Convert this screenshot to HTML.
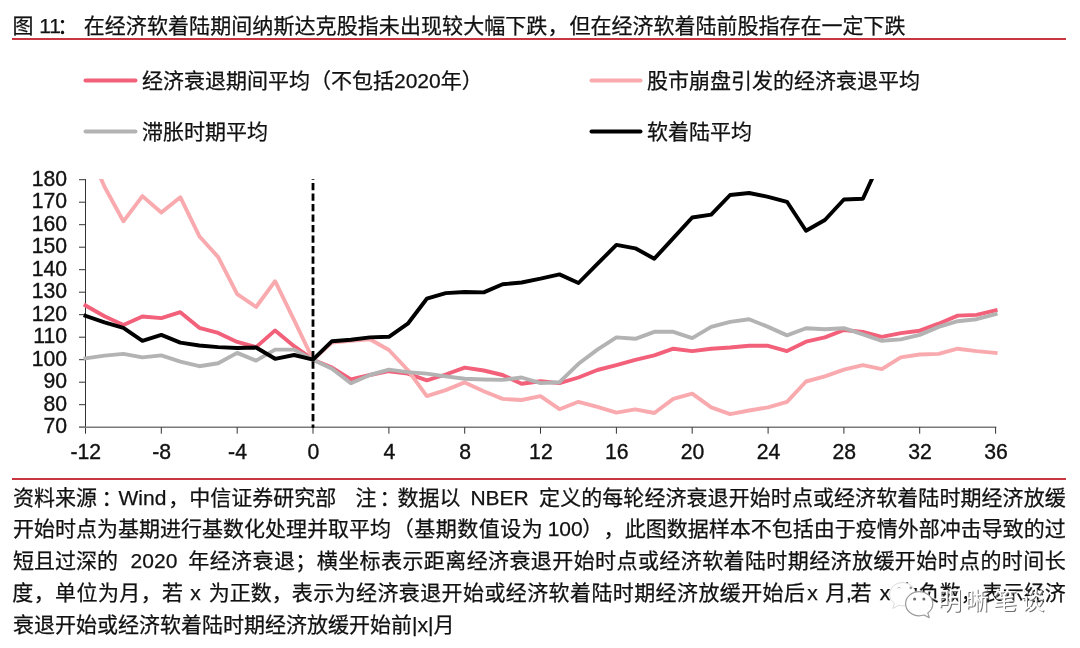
<!DOCTYPE html>
<html lang="zh-CN">
<head>
<meta charset="utf-8">
<title>图 11</title>
<style>
html,body{margin:0;padding:0;background:#fff;}
body{width:1080px;height:648px;position:relative;overflow:hidden;
  font-family:"Liberation Sans","Noto Sans CJK SC",sans-serif;color:#111;-webkit-text-stroke:0.25px #111;}
.abs{position:absolute;white-space:nowrap;}
.title{left:12.4px;top:10.8px;font-size:21px;line-height:30px;text-spacing-trim:space-all;}
.rule{position:absolute;left:12px;width:1054px;background:#c8363f;}
#wrap{position:absolute;left:0;top:0;width:1080px;height:648px;will-change:transform;}
.chart{position:absolute;left:0;top:0;}
.ax text{font-family:"Liberation Sans",sans-serif;font-size:21.2px;fill:#111;stroke:#111;stroke-width:0.35px;}
.wm{-webkit-text-stroke:0;left:937.7px;top:582.3px;font-size:24px;line-height:34px;letter-spacing:3.6px;color:#fff;text-shadow:1px 1px 0.6px #6e6e6e;font-family:"Noto Sans CJK SC",sans-serif;}
.lg{font-size:21px;line-height:30px;}
.src{font-size:21px;line-height:30px;text-spacing-trim:space-all;}
</style>
</head>
<body>
<div id="wrap">
<div class="abs title">图 11<span style="position:relative;left:-3.700px">：</span></div><div class="abs title" style="left:83.700px;letter-spacing:0.08px;">在经济软着陆期间纳斯达克股指未出现较大幅下跌，</div><div class="abs title" style="left:569.400px;">但在经济软着陆前股指存在一定下跌</div>
<div class="rule" style="top:37.900px;height:1.900px;"></div>
<svg class="chart" width="1080" height="648" viewBox="0 0 1080 648">
<defs><clipPath id="plot"><rect x="80" y="179" width="930" height="260"/></clipPath></defs>
<g stroke="#333" stroke-width="1" fill="none">
<line x1="85.5" y1="179.1" x2="85.5" y2="433.7"/>
<line x1="79.0" y1="427.2" x2="85.5" y2="427.2"/>
<line x1="79.0" y1="404.7" x2="85.5" y2="404.7"/>
<line x1="79.0" y1="382.2" x2="85.5" y2="382.2"/>
<line x1="79.0" y1="359.7" x2="85.5" y2="359.7"/>
<line x1="79.0" y1="337.2" x2="85.5" y2="337.2"/>
<line x1="79.0" y1="314.7" x2="85.5" y2="314.7"/>
<line x1="79.0" y1="292.2" x2="85.5" y2="292.2"/>
<line x1="79.0" y1="269.7" x2="85.5" y2="269.7"/>
<line x1="79.0" y1="247.2" x2="85.5" y2="247.2"/>
<line x1="79.0" y1="224.7" x2="85.5" y2="224.7"/>
<line x1="79.0" y1="202.2" x2="85.5" y2="202.2"/>
<line x1="79.0" y1="179.7" x2="85.5" y2="179.7"/>
</g>
<g stroke="#7a7a7a" stroke-width="1.5" fill="none">
<line x1="79.0" y1="427.2" x2="996.3" y2="427.2"/>
</g>
<g stroke="#333" stroke-width="1" fill="none">
<line x1="161.3" y1="427.2" x2="161.3" y2="433.7"/>
<line x1="237.2" y1="427.2" x2="237.2" y2="433.7"/>
<line x1="313.0" y1="427.2" x2="313.0" y2="433.7"/>
<line x1="388.9" y1="427.2" x2="388.9" y2="433.7"/>
<line x1="464.7" y1="427.2" x2="464.7" y2="433.7"/>
<line x1="540.5" y1="427.2" x2="540.5" y2="433.7"/>
<line x1="616.4" y1="427.2" x2="616.4" y2="433.7"/>
<line x1="692.2" y1="427.2" x2="692.2" y2="433.7"/>
<line x1="768.1" y1="427.2" x2="768.1" y2="433.7"/>
<line x1="843.9" y1="427.2" x2="843.9" y2="433.7"/>
<line x1="919.7" y1="427.2" x2="919.7" y2="433.7"/>
<line x1="995.6" y1="427.2" x2="995.6" y2="433.7"/>
</g>
<g class="ax" text-anchor="end">
<text x="67" y="433.3">70</text>
<text x="67" y="410.8">80</text>
<text x="67" y="388.3">90</text>
<text x="67" y="365.8">100</text>
<text x="67" y="343.3">110</text>
<text x="67" y="320.8">120</text>
<text x="67" y="298.3">130</text>
<text x="67" y="275.8">140</text>
<text x="67" y="253.3">150</text>
<text x="67" y="230.8">160</text>
<text x="67" y="208.3">170</text>
<text x="67" y="185.8">180</text>
</g>
<g class="ax" text-anchor="middle">
<text x="85.8" y="458.9">-12</text>
<text x="161.6" y="458.9">-8</text>
<text x="237.5" y="458.9">-4</text>
<text x="313.4" y="458.9">0</text>
<text x="389.3" y="458.9">4</text>
<text x="465.1" y="458.9">8</text>
<text x="540.9" y="458.9">12</text>
<text x="616.8" y="458.9">16</text>
<text x="692.6" y="458.9">20</text>
<text x="768.5" y="458.9">24</text>
<text x="844.3" y="458.9">28</text>
<text x="920.1" y="458.9">32</text>
<text x="996.0" y="458.9">36</text>
</g>
<g clip-path="url(#plot)" fill="none" stroke-width="3.9" stroke-linejoin="round" stroke-linecap="square">
<polyline stroke="#f2607a" points="85.5,305.5 104.5,316.3 123.4,325.0 142.4,316.5 161.3,318.1 180.3,312.2 199.3,327.8 218.2,332.9 237.2,341.9 256.1,347.1 275.1,330.4 294.1,346.2 313.0,359.7 332.0,367.6 350.9,379.3 369.9,375.0 388.9,371.2 407.8,373.6 426.8,380.4 445.7,374.5 464.7,367.6 483.7,370.5 502.6,375.0 521.6,383.8 540.5,381.3 559.5,383.1 578.5,377.5 597.4,370.0 616.4,365.1 635.3,359.9 654.3,355.4 673.3,348.7 692.2,351.1 711.2,348.7 730.1,347.5 749.1,345.8 768.1,345.8 787.0,351.1 806.0,341.7 824.9,337.4 843.9,330.0 862.9,332.0 881.8,336.8 900.8,333.1 919.7,330.7 938.7,323.7 957.7,315.6 976.6,314.9 995.6,310.4"/>
<polyline stroke="#f9aaae" points="85.5,143.7 104.5,186.7 123.4,221.3 142.4,196.1 161.3,212.5 180.3,197.2 199.3,236.2 218.2,257.1 237.2,294.2 256.1,307.0 275.1,281.2 294.1,320.1 313.0,359.7 332.0,342.6 350.9,340.8 369.9,339.2 388.9,350.0 407.8,370.0 426.8,396.1 445.7,390.1 464.7,382.4 483.7,391.2 502.6,398.9 521.6,400.0 540.5,396.1 559.5,409.2 578.5,401.8 597.4,406.9 616.4,412.6 635.3,409.4 654.3,413.0 673.3,398.9 692.2,393.7 711.2,407.4 730.1,414.1 749.1,410.5 768.1,407.4 787.0,401.8 806.0,381.5 824.9,376.4 843.9,369.6 862.9,365.1 881.8,369.1 900.8,357.4 919.7,354.5 938.7,353.9 957.7,348.7 976.6,351.1 995.6,352.9"/>
<polyline stroke="#b3b3b3" points="85.5,358.4 104.5,355.6 123.4,353.9 142.4,357.4 161.3,355.4 180.3,361.7 199.3,366.2 218.2,363.3 237.2,352.9 256.1,360.6 275.1,349.6 294.1,349.6 313.0,359.7 332.0,368.7 350.9,383.3 369.9,375.0 388.9,369.6 407.8,372.1 426.8,373.6 445.7,376.4 464.7,378.8 483.7,379.5 502.6,379.9 521.6,377.5 540.5,383.1 559.5,382.2 578.5,363.8 597.4,349.6 616.4,337.4 635.3,338.8 654.3,331.8 673.3,331.8 692.2,338.1 711.2,326.9 730.1,321.9 749.1,319.2 768.1,326.9 787.0,335.4 806.0,328.2 824.9,329.3 843.9,328.2 862.9,334.3 881.8,340.8 900.8,339.4 919.7,334.9 938.7,326.9 957.7,321.2 976.6,319.2 995.6,314.2"/>
<polyline stroke="#000" points="85.5,315.8 104.5,322.4 123.4,327.8 142.4,340.8 161.3,334.9 180.3,342.6 199.3,345.5 218.2,347.1 237.2,348.0 256.1,347.5 275.1,358.8 294.1,355.0 313.0,359.7 332.0,341.2 350.9,339.7 369.9,337.4 388.9,336.8 407.8,323.7 426.8,298.7 445.7,293.1 464.7,292.0 483.7,292.4 502.6,284.3 521.6,282.5 540.5,278.7 559.5,274.4 578.5,283.0 597.4,263.9 616.4,244.9 635.3,248.3 654.3,258.7 673.3,238.2 692.2,217.5 711.2,214.6 730.1,195.0 749.1,193.0 768.1,196.8 787.0,201.8 806.0,230.8 824.9,220.0 843.9,199.5 862.9,198.8 881.8,157.2"/>
</g>
<line x1="313.0" y1="179" x2="313.0" y2="427.7" stroke="#000" stroke-width="2.8" stroke-dasharray="7.4 3.1" stroke-dashoffset="6.6"/>
<g stroke-width="4" stroke-linecap="round" fill="none">
<line x1="85.5" y1="80.5" x2="135.5" y2="80.5" stroke="#f2607a"/>
<line x1="85.5" y1="131.6" x2="135.5" y2="131.6" stroke="#b3b3b3"/>
<line x1="591.5" y1="80.5" x2="640.5" y2="80.5" stroke="#f9aaae"/>
<line x1="591.5" y1="131.6" x2="640.5" y2="131.6" stroke="#000"/>
</g>
</svg>
<div class="abs lg" style="left:142px;top:66.3px;">经济衰退期间平均（不包括2020年）</div>
<div class="abs lg" style="left:142px;top:116.6px;">滞胀时期平均</div>
<div class="abs lg" style="left:647px;top:66.3px;">股市崩盘引发的经济衰退平均</div>
<div class="abs lg" style="left:647px;top:116.6px;">软着陆平均</div>
<div class="rule" style="top:477.900px;height:1.900px;"></div>
<div class="srcwrap"><span class="abs src" style="top:482.6px;left:13.0px;">资料来源<span style="position:relative;left:4.5px">：</span></span>
<span class="abs src" style="top:482.6px;left:118.5px;">Wind</span>
<span class="abs src" style="top:482.6px;left:168.3px;">，中信证券研究部  </span>
<span class="abs src" style="top:482.6px;left:355.5px;">注<span style="position:relative;left:3px">：</span>数据以 </span>
<span class="abs src" style="top:482.6px;left:470.4px;">NBER </span>
<span class="abs src" style="top:482.6px;right:14.2px;letter-spacing:0.07px;">定义的每轮经济衰退开始时点或经济软着陆时期经济放缓</span>
<span class="abs src" style="top:514.3px;left:13.0px;">开始时点为基期进行基数化处理并取平均</span>
<span class="abs src" style="top:514.3px;left:392.8px;letter-spacing:0.5px;">（基期数值设为 </span>
<span class="abs src" style="top:514.3px;left:547.7px;">100</span>
<span class="abs src" style="top:514.3px;left:582.0px;letter-spacing:0.5px;">），</span>
<span class="abs src" style="top:514.3px;right:14.3px;">此图数据样本不包括由于疫情外部冲击导致的过</span>
<span class="abs src" style="top:546.0px;left:13.0px;">短且过深的 </span>
<span class="abs src" style="top:546.0px;left:130.6px;">2020 </span>
<span class="abs src" style="top:546.0px;right:13.9px;letter-spacing:0.41px;">年经济衰退；横坐标表示距离经济衰退开始时点或经济软着陆时期经济放缓开始时点的时间长</span>
<span class="abs src" style="top:577.8px;left:12.3px;letter-spacing:0.4px;">度，单位为月，若 </span>
<span class="abs src" style="top:577.8px;left:190.3px;">x </span>
<span class="abs src" style="top:577.8px;left:208.8px;">为正数，</span>
<span class="abs src" style="top:577.8px;left:291.8px;letter-spacing:0.4px;">表示为经济衰退开始或经济软着陆时期经济放缓开始后 </span>
<span class="abs src" style="top:577.8px;left:807.3px;">x </span>
<span class="abs src" style="top:577.8px;left:825.3px;">月</span>
<span class="abs src" style="top:577.8px;left:846.0px;">,</span>
<span class="abs src" style="top:577.8px;left:850.5px;">若 </span>
<span class="abs src" style="top:577.8px;left:879.8px;">x </span>
<span class="abs src" style="top:577.8px;right:14.3px;">为负数，表示经济</span>
<span class="abs src" style="top:609.5px;left:13.0px;">衰退开始或经济软着陆时期经济放缓开始前|x|月</span></div>
<svg class="chart" width="1080" height="648" viewBox="0 0 1080 648">
<g fill="#fff" stroke-linejoin="round">
<path d="M902.500 582.600c-7.200 0-13 5.200-13 11.600 0 3.700 1.900 6.900 4.900 9l-1.500 5.300 5.600-3.200c1.300.3 2.600.5 4 .5 7.200 0 13-5.200 13-11.600s-5.800-11.600-13-11.600z" stroke="#d9d9d9" stroke-width="1"/>
<path d="M919.200 591.600c-7.500 0-13.600 5.400-13.600 12.100s6.100 12.100 13.600 12.100c1.700 0 3.300-.3 4.800-.8l5.300 2.600-1.500-4.700c3-2.200 5-5.500 5-9.200 0-6.700-6.100-12.100-13.600-12.100z" stroke="#9a9a9a" stroke-width="1.2"/>
</g>
<g fill="#6a6a6a"><circle cx="914.600" cy="598.900" r="1.500"/><circle cx="923.900" cy="598.900" r="1.500"/></g>
<g fill="#9a9a9a"><circle cx="910.800" cy="587.800" r="1.400"/></g>
<path d="M897.300 588.300q1.700-2.300 3.400 0" fill="none" stroke="#bdbdbd" stroke-width="1"/>
</svg>
<div class="abs wm">明晰笔谈</div>
</div>
</body>
</html>
